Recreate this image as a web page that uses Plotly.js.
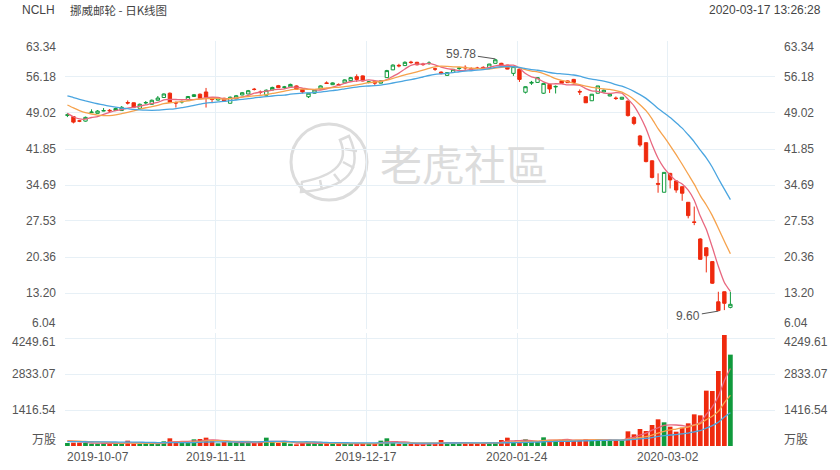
<!DOCTYPE html>
<html><head><meta charset="utf-8">
<script src="https://cdn.plot.ly/plotly-3.0.1.min.js"></script>
<style>html,body{margin:0;padding:0;background:#fff;}#chart{width:840px;height:470px;}</style>
</head><body><div id="chart"></div>
<script>
// ---------- data ----------
const dateTickIdx = [0, 25, 50, 75, 100];
const dateTickLabels = ['2019-10-07', '2019-11-11', '2019-12-17', '2020-01-24', '2020-03-02'];
const priceTicks = [6.04, 13.20, 20.36, 27.53, 34.69, 41.85, 49.02, 56.18, 63.34];
const volTicks = [0, 1416.54, 2833.07, 4249.61];
const volTickLabels = ['万股', '1416.54', '2833.07', '4249.61'];

const opens = [48.55,48.3,47.45,47.4,49.1,48.95,49.4,49.55,49.5,49.5,
51.1,51.05,49.95,51.0,50.75,51.55,52.1,52.95,51.1,51.2,
51.6,52.3,52.75,53.2,51.8,51.6,51.95,50.95,51.8,52.6,
52.8,53.75,53.2,52.55,53.6,54.45,54.1,54.2,54.4,53.75,
52.25,52.95,53.8,55.0,54.65,54.7,55.0,55.45,56.25,56.4,
55.1,55.25,54.95,56.05,57.6,58.5,58.45,59.15,59.1,58.75,
58.85,57.8,57.15,56.5,57.1,57.85,58.1,57.8,57.95,58.1,
58.05,58.9,58.9,58.55,56.9,57.7,53.15,54.95,55.1,52.95,
54.7,54.2,55.4,55.4,55.7,53.3,52.25,51.45,52.95,53.2,
52.4,52.0,51.75,51.4,48.1,44.45,43.1,39.5,35.0,33.25,
37.0,35.5,34.35,31.25,27.35,23.95,22.2,19.45,11.45,13.45,
10.35];
const highs = [49.0,48.4,47.6,48.3,49.75,49.6,50.0,49.8,50.1,50.4,
51.5,51.1,50.9,51.4,51.7,52.4,52.9,53.1,51.3,51.5,
52.4,52.8,52.9,54.0,52.1,52.2,52.05,52.3,52.6,53.2,
53.6,54.0,53.5,53.7,54.25,54.6,54.4,54.85,54.5,53.85,
53.0,53.7,54.5,55.3,55.1,54.9,55.7,56.2,56.7,56.5,
55.4,55.35,55.5,57.6,58.7,58.8,59.3,59.4,59.2,59.0,
59.3,58.0,57.3,57.1,57.8,58.2,58.5,58.1,58.2,58.3,
58.8,59.78,59.0,58.6,58.3,57.8,54.3,55.4,56.1,55.0,
54.8,54.5,55.5,55.5,55.8,53.7,52.3,52.8,54.4,53.7,
52.8,52.3,52.2,51.5,48.4,44.65,43.2,39.6,37.0,37.2,
37.1,35.6,34.4,31.3,30.4,24.1,22.3,19.5,13.45,13.5,
13.45];
const lows = [48.2,46.95,47.2,47.3,49.05,48.9,49.35,49.2,49.4,49.45,
50.7,50.0,49.9,50.7,50.7,51.5,52.0,51.0,50.1,50.9,
51.55,52.2,51.9,50.1,51.2,51.5,51.3,50.9,51.75,52.55,
52.75,53.5,52.7,52.5,53.55,54.0,53.8,54.15,53.7,52.9,
52.0,52.9,53.75,54.8,54.6,54.4,54.95,55.4,55.2,55.3,
54.9,54.6,54.9,56.0,57.55,58.1,58.4,58.8,58.5,58.4,
58.6,57.4,56.7,56.45,57.05,57.6,57.6,57.5,57.7,57.8,
58.0,58.85,58.3,57.7,56.4,55.2,52.9,54.6,55.0,52.8,
53.0,52.9,54.9,55.0,55.1,52.6,51.0,51.4,52.9,53.15,
52.35,51.6,51.7,48.3,46.6,42.3,39.2,36.0,33.15,33.2,
34.0,33.15,31.55,28.05,26.7,19.8,17.3,15.0,9.6,9.8,
10.15];
const closes = [48.65,47.2,47.4,48.15,49.2,49.4,49.5,49.45,49.9,50.15,
51.0,50.15,50.75,51.1,51.55,52.0,52.8,51.15,51.0,51.3,
52.3,52.65,51.95,52.15,51.7,52.05,51.4,52.15,52.45,53.05,
53.45,53.7,53.1,53.55,54.1,54.05,54.2,54.7,53.75,53.2,
52.95,53.6,54.4,54.9,55.0,54.6,55.6,56.05,55.7,55.4,
55.2,54.95,55.4,57.45,58.55,58.4,59.1,59.05,58.6,58.65,
58.95,57.75,56.85,57.05,57.7,57.95,58.0,57.75,57.9,58.0,
58.75,59.6,58.35,57.75,58.25,55.7,54.25,55.1,56.05,54.9,
53.8,54.3,54.95,55.05,55.1,53.2,51.05,52.75,54.4,53.55,
52.75,51.9,52.15,48.5,46.95,42.65,39.35,36.2,34.85,37.2,
35.7,33.7,33.05,28.6,27.25,19.9,20.6,15.15,9.7,11.15,
10.95];
// volume, 万股
const volumes = [118,131,131,118,92,92,105,105,105,105,
210,92,92,105,92,105,184,302,171,131,
131,262,276,328,197,105,157,144,118,131,
118,118,184,328,157,118,157,92,66,131,
131,105,105,105,79,92,92,92,92,92,
105,105,210,302,131,79,79,79,79,
79,92,105,236,131,105,92,105,105,92,
118,131,157,236,328,171,157,262,157,171,
341,236,236,236,236,210,236,262,236,236,
223,223,223,236,577,459,669,590,827,1050,
932,761,564,722,892,1246,1207,2178,2165,2952,
4369,3595];
// sessions before the visible window, estimated from where the MA lines start
const preCloses = [53.5,54.2,54.8,55.1,54.6,54.3,54.0,54.4,53.8,53.3,
53.0,52.6,52.3,51.9,51.45,50.6,49.6,48.4,47.5];
const preVolumes = [150,130,160,140,125,155,135,145,150,140,
170,195,180,190,185,220,245,230,237];

const highLabel = {idx: 71, value: 59.78, text: '59.78'};
const lowLabel = {idx: 108, value: 9.60, text: '9.60'};

// ---------- build ----------
const GREEN = '#109a3c', RED = '#ef2a0e';
const C5 = '#e8677f', C10 = '#f6a24c', C20 = '#4aa5e0';
const GRID = '#e7f0f6';
const FONT = "'Liberation Sans', Arial, 'Noto Sans CJK SC', sans-serif";
const idx = closes.map((_, i) => i);

function movingAvg(pre, vals, n) {
  const all = pre.concat(vals), off = pre.length;
  return vals.map((_, i) => {
    let s = 0;
    for (let k = i + off - n + 1; k <= i + off; k++) s += all[k];
    return s / n;
  });
}
const up = closes.map((c, i) => c >= opens[i]);
const volColors = up.map(u => u ? GREEN : RED);

const L = 65, R = 775, T = 41, B = 446;
const px2x = x => (x - L) / (R - L);
const py2y = y => (B - y) / (B - T);
const priceBottom = py2y(329), volTop = py2y(333);
const volMax = (B - 333) / 36 * 1416.54;

const maLine = (y, color, yax) => ({type: 'scatter', mode: 'lines', x: idx, y: y, xaxis: 'x', yaxis: yax,
  line: {color: color, width: 1.3, shape: 'spline', smoothing: 0.6}, hoverinfo: 'skip'});

const traces = [
  {type: 'candlestick', x: idx, open: opens, high: highs, low: lows, close: closes, xaxis: 'x', yaxis: 'y',
   increasing: {line: {color: GREEN, width: 1}, fillcolor: '#ffffff'},
   decreasing: {line: {color: RED, width: 1}, fillcolor: RED}, whiskerwidth: 0, hoverinfo: 'skip'},
  maLine(movingAvg(preCloses, closes, 5), C5, 'y'),
  maLine(movingAvg(preCloses, closes, 10), C10, 'y'),
  maLine(movingAvg(preCloses, closes, 20), C20, 'y'),
  {type: 'bar', x: idx, y: volumes, xaxis: 'x', yaxis: 'y2', marker: {color: volColors, line: {width: 0}}, hoverinfo: 'skip'},
  maLine(movingAvg(preVolumes, volumes, 5), C5, 'y2'),
  maLine(movingAvg(preVolumes, volumes, 10), C10, 'y2'),
  maLine(movingAvg(preVolumes, volumes, 20), C20, 'y2')
];

const tickFont = {family: FONT, size: 12, color: '#555'};
const ann = [];
priceTicks.forEach((v, k) => {
  const ys = k === priceTicks.length - 1 ? -6 : (k === 0 ? 6 : 0);
  const t = v.toFixed(2);
  ann.push({xref: 'paper', yref: 'y', x: 0, y: v, text: t, showarrow: false, xanchor: 'right', yanchor: 'middle', xshift: -7, yshift: ys, font: tickFont});
  ann.push({xref: 'paper', yref: 'y', x: 1, y: v, text: t, showarrow: false, xanchor: 'left', yanchor: 'middle', xshift: 7, yshift: ys, font: tickFont});
});
volTicks.forEach((v, k) => {
  const ys = k === volTicks.length - 1 ? -4 : (k === 0 ? 6 : 0);
  ann.push({xref: 'paper', yref: 'y2', x: 0, y: v, text: volTickLabels[k], showarrow: false, xanchor: 'right', yanchor: 'middle', xshift: -7, yshift: ys, font: tickFont});
  ann.push({xref: 'paper', yref: 'y2', x: 1, y: v, text: volTickLabels[k], showarrow: false, xanchor: 'left', yanchor: 'middle', xshift: 7, yshift: ys, font: tickFont});
});
dateTickIdx.forEach((d, k) => {
  ann.push({xref: 'x', yref: 'paper', x: k === 0 ? -0.4 : d - 0.4, y: 0, text: dateTickLabels[k], showarrow: false,
    xanchor: k === 0 ? 'left' : 'center', yanchor: 'middle', yshift: -11, font: tickFont});
});
[highLabel, lowLabel].forEach((p, k) => {
  ann.push({xref: 'x', yref: 'y', x: p.idx, y: p.value, text: p.text, showarrow: true, arrowhead: 0, arrowwidth: 1,
    arrowcolor: '#555', ax: k === 0 ? -34 : -30, ay: k === 0 ? -5 : 5, standoff: 0, font: {family: FONT, size: 12, color: '#555'}});
});
// header
ann.push({xref: 'paper', yref: 'paper', x: px2x(20), y: py2y(10), text: 'NCLH', showarrow: false, xanchor: 'left', yanchor: 'middle', font: {family: FONT, size: 12, color: '#444'}});
ann.push({xref: 'paper', yref: 'paper', x: px2x(68), y: py2y(10), text: '挪威邮轮 - 日K线图', showarrow: false, xanchor: 'left', yanchor: 'middle', font: {family: "'Noto Sans CJK SC', sans-serif", size: 11.5, color: '#444'}});
ann.push({xref: 'paper', yref: 'paper', x: px2x(823), y: py2y(10), text: '2020-03-17 13:26:28', showarrow: false, xanchor: 'right', yanchor: 'middle', font: {family: FONT, size: 12, color: '#444'}});
// watermark
ann.push({xref: 'paper', yref: 'paper', x: px2x(464), y: py2y(162), text: '老虎社區', showarrow: false, xanchor: 'center', yanchor: 'middle', font: {family: "'Noto Sans CJK TC', sans-serif", size: 42, color: '#dcdcdc'}});

const P = (x, y) => px2x(x).toFixed(4) + ',' + py2y(y).toFixed(4);
const WM = '#dcdcdc';
const shapes = [
  {type: 'circle', xref: 'paper', yref: 'paper', x0: px2x(291), x1: px2x(367), y0: py2y(200), y1: py2y(124), line: {color: WM, width: 3}, layer: 'below'},
  {type: 'path', xref: 'paper', yref: 'paper', layer: 'below', line: {color: WM, width: 2.5},
   path: 'M' + P(349, 136) + ' Q' + P(372, 186) + ' ' + P(301, 192) + ' L' + P(302, 182) + ' Q' + P(354, 172) + ' ' + P(340, 140) + ' Z'},
  {type: 'path', xref: 'paper', yref: 'paper', layer: 'below', line: {color: WM, width: 2.5},
   path: 'M' + P(320, 180) + ' L' + P(322, 190) + ' M' + P(334, 174) + ' L' + P(341, 183) + ' M' + P(343, 162) + ' L' + P(354, 168) + ' M' + P(345, 149) + ' L' + P(357, 151)}
];

const layout = {
  width: 840, height: 470,
  margin: {l: L, r: 840 - R, t: T, b: 470 - B, pad: 0},
  paper_bgcolor: '#ffffff', plot_bgcolor: '#ffffff',
  showlegend: false, dragmode: false,
  boxgap: 0.2, bargap: 0.22,
  font: {family: FONT, size: 12, color: '#555'},
  xaxis: {domain: [0, 1], anchor: 'y2', range: [-0.4, 117.4], tickmode: 'array', tickvals: dateTickIdx.map(d => d - 0.4),
    showticklabels: false, ticks: '', showgrid: true, gridcolor: GRID, gridwidth: 1, zeroline: false, showline: false,
    rangeslider: {visible: false}, fixedrange: true},
  yaxis: {domain: [priceBottom, 1], range: [priceTicks[0], priceTicks[priceTicks.length - 1]], tickmode: 'array', tickvals: priceTicks,
    showticklabels: false, ticks: '', showgrid: true, gridcolor: GRID, zeroline: false, showline: false, fixedrange: true},
  yaxis2: {domain: [0, volTop], range: [0, volMax], tickmode: 'array', tickvals: volTicks,
    showticklabels: false, ticks: '', showgrid: true, gridcolor: GRID, zeroline: false, showline: false, fixedrange: true},
  annotations: ann,
  shapes: shapes
};
Plotly.newPlot('chart', traces, layout, {staticPlot: true, displayModeBar: false});
</script>
</body></html>
